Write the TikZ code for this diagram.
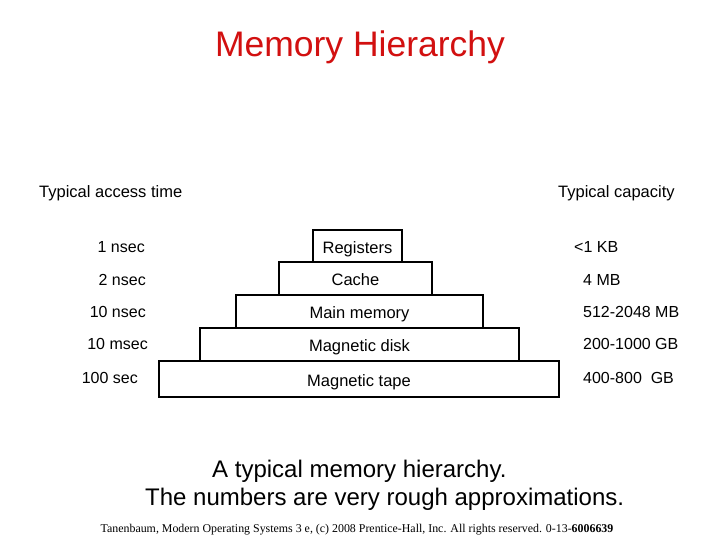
\documentclass[tikz,border=0pt]{standalone}
\usepackage{fontspec}
\setmainfont{Liberation Sans}
\newfontfamily\footfont{Liberation Serif}
\definecolor{titlered}{RGB}{210,16,16}
\begin{document}
\begin{tikzpicture}[x=1pt,y=-1pt,
  level/.style={draw=black,line width=1.6pt,inner sep=0pt,font=\fontsize{16.5}{18}\selectfont,text height=15pt,text depth=1pt},
  lab/.style={inner sep=0pt,font=\fontsize{16}{18}\selectfont},
  head/.style={inner sep=0pt,font=\fontsize{16.5}{18}\selectfont},
  captext/.style={inner sep=0pt,font=\fontsize{24}{28}\selectfont,anchor=base west}]
\useasboundingbox[fill=white] (0,0) rectangle (720,540);
% title
\node[inner sep=0pt,anchor=base,text=titlered,font=\fontsize{35.5}{40}\selectfont] (title) at (360,57) {Memory Hierarchy};
% headings
\node[head,anchor=base west] (hleft) at (39,198) {Typical access time};
\node[head,anchor=base west] (hright) at (558,198) {Typical capacity};
% pyramid
\node[level,minimum width=400pt,minimum height=36pt] (tape) at (359,379) {Magnetic tape};
\node[level,minimum width=319pt,minimum height=33pt] (disk) at (359.5,344.5) {Magnetic disk};
\node[level,minimum width=247pt,minimum height=33pt] (main) at (359.5,311.5) {Main memory};
\node[level,minimum width=153pt,minimum height=33pt] (cache) at (355.5,278.5) {Cache};
\node[level,minimum width=89pt,minimum height=32pt] (reg) at (357.5,246) {Registers};
% access times
\node[lab,anchor=base east] (t1) at (145,252) {1 nsec};
\node[lab,anchor=base east] (t2) at (146,285) {2 nsec};
\node[lab,anchor=base east] (t3) at (146,317) {10 nsec};
\node[lab,anchor=base east] (t4) at (148,349) {10 msec};
\node[lab,anchor=base east] (t5) at (138,383) {100 sec};
% capacities
\node[lab,anchor=base west] (c1) at (574,252) {<1 KB};
\node[lab,anchor=base west] (c2) at (583,285) {4 MB};
\node[lab,anchor=base west] (c3) at (583,317) {512-2048 MB};
\node[lab,anchor=base west] (c4) at (583,349) {200-1000 GB};
\node[lab,anchor=base west] (c5) at (583,383) {400-800\ \ GB};
% caption
\node[captext] (cap1) at (212,477) {A typical memory hierarchy.};
\node[captext] (cap2) at (145,505) {The numbers are very rough approximations.};
% footer
\node[inner sep=0pt,anchor=base,font=\footfont\fontsize{11.9}{14}\selectfont] (foot) at (357,532) {Tanenbaum, Modern Operating Systems 3 e, (c) 2008 Prentice-Hall, Inc. All rights reserved. 0-13-\textbf{6006639}};
\end{tikzpicture}
\end{document}
